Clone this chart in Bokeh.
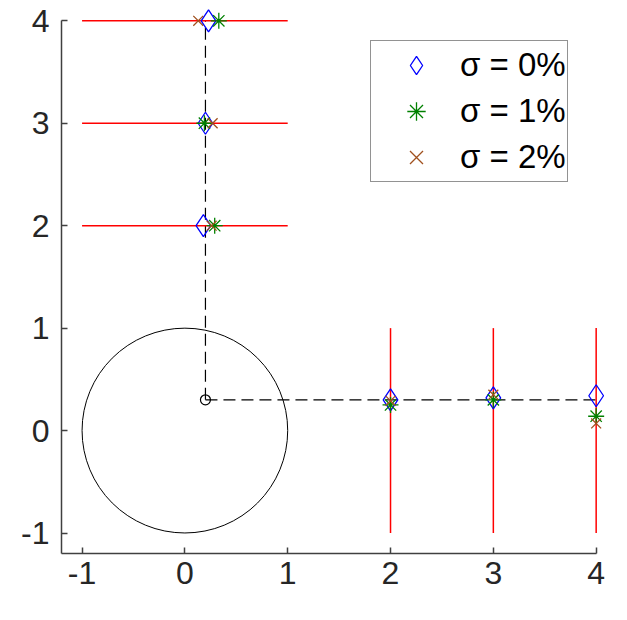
from bokeh.plotting import figure
from bokeh.models import Range1d, Legend, LegendItem, FixedTicker, ColumnDataSource
from bokeh.embed import file_html
from bokeh.resources import INLINE

# ---- data ----
labels = ["σ = 0%", "σ = 1%", "σ = 2%"]
est0_x = [0.23, 0.20, 0.18, 2.0, 3.0, 4.0]
est0_y = [4.0, 3.0, 2.0, 0.30, 0.32, 0.34]
est1_x = [0.33, 0.19, 0.29, 2.0, 3.0, 4.0]
est1_y = [4.0, 3.0, 2.0, 0.25, 0.30, 0.14]
est2_x = [0.13, 0.27, 0.26, 2.0, 3.0, 4.0]
est2_y = [4.0, 3.0, 2.0, 0.29, 0.35, 0.07]
source_x = [0.2]
source_y = [0.3]
h_line_y = [2, 3, 4]
h_line_x0 = [-1, -1, -1]
h_line_x1 = [1, 1, 1]
v_line_x = [2, 3, 4]
v_line_y0 = [-1, -1, -1]
v_line_y1 = [1, 1, 1]
ticks = [-1, 0, 1, 2, 3, 4]
tick_labels = ["-1", "0", "1", "2", "3", "4"]
axis_min, axis_max = -1.2, 4

p = figure(width=611, height=604, output_backend="svg", toolbar_location=None,
           x_range=Range1d(-1.2, 4.12), y_range=Range1d(-1.2, 4.12),
           min_border_left=61, min_border_top=8, min_border_right=3,
           min_border_bottom=51, outline_line_color=None)
p.grid.visible = False

for ax in (p.xaxis, p.yaxis):
    ax.ticker = FixedTicker(ticks=ticks)
    ax.bounds = (axis_min, axis_max)
    ax.major_label_overrides = {t: s for t, s in zip(ticks, tick_labels)}
    ax.major_tick_in = 6
    ax.major_tick_out = 0
    ax.minor_tick_line_color = None
    ax.axis_line_color = "#404040"
    ax.axis_line_width = 1.5
    ax.major_tick_line_color = "#404040"
    ax.major_tick_line_width = 1.5
    ax.major_label_text_font = "Liberation Sans"
    ax.major_label_text_font_size = "32px"
    ax.major_label_text_color = "#262626"
p.xaxis.major_label_standoff = 8
p.yaxis.major_label_standoff = 12

# unit circle
p.ellipse(x=0, y=0, width=2, height=2, fill_color=None, line_color="black", line_width=1)

# dashed lines from source
p.line(x=[source_x[0], source_x[0]], y=[source_y[0], max(h_line_y)], line_color="black",
       line_width=1.2, line_dash="12 6")
p.line(x=[source_x[0], max(v_line_x)], y=[source_y[0], source_y[0]], line_color="black",
       line_width=1.2, line_dash="12 6")

# red receiver lines
seg = ColumnDataSource(dict(
    x0=h_line_x0 + v_line_x, x1=h_line_x1 + v_line_x,
    y0=h_line_y + v_line_y0, y1=h_line_y + v_line_y1))
p.segment(x0="x0", y0="y0", x1="x1", y1="y1", source=seg,
          line_color="#FF0000", line_width=1.5)

p.scatter(x=source_x, y=source_y, marker="circle", size=10, fill_color=None,
          line_color="black", line_width=1.2)

r0 = p.scatter(x=est0_x, y=est0_y, marker="diamond", size=22, fill_color=None,
               line_color="#0000FF", line_width=1.3)
r1 = p.scatter(x=est1_x, y=est1_y, marker="asterisk", size=16,
               line_color="#008000", line_width=1.3)
r2 = p.scatter(x=est2_x, y=est2_y, marker="x", size=14,
               line_color="#A0501E", line_width=1.3)

legend = Legend(items=[LegendItem(label=labels[0], renderers=[r0]),
                       LegendItem(label=labels[1], renderers=[r1]),
                       LegendItem(label=labels[2], renderers=[r2])],
                location=(309, 371), padding=1, margin=0, spacing=0,
                glyph_width=88, glyph_height=46, label_height=46, label_standoff=0,
                label_text_font="Liberation Sans", label_text_font_size="33px",
                label_text_color="black", border_line_color="#262626",
                border_line_width=1.2, background_fill_color="white",
                background_fill_alpha=1.0)
p.add_layout(legend, "center")

open("out.html", "w").write(file_html(p, INLINE))
